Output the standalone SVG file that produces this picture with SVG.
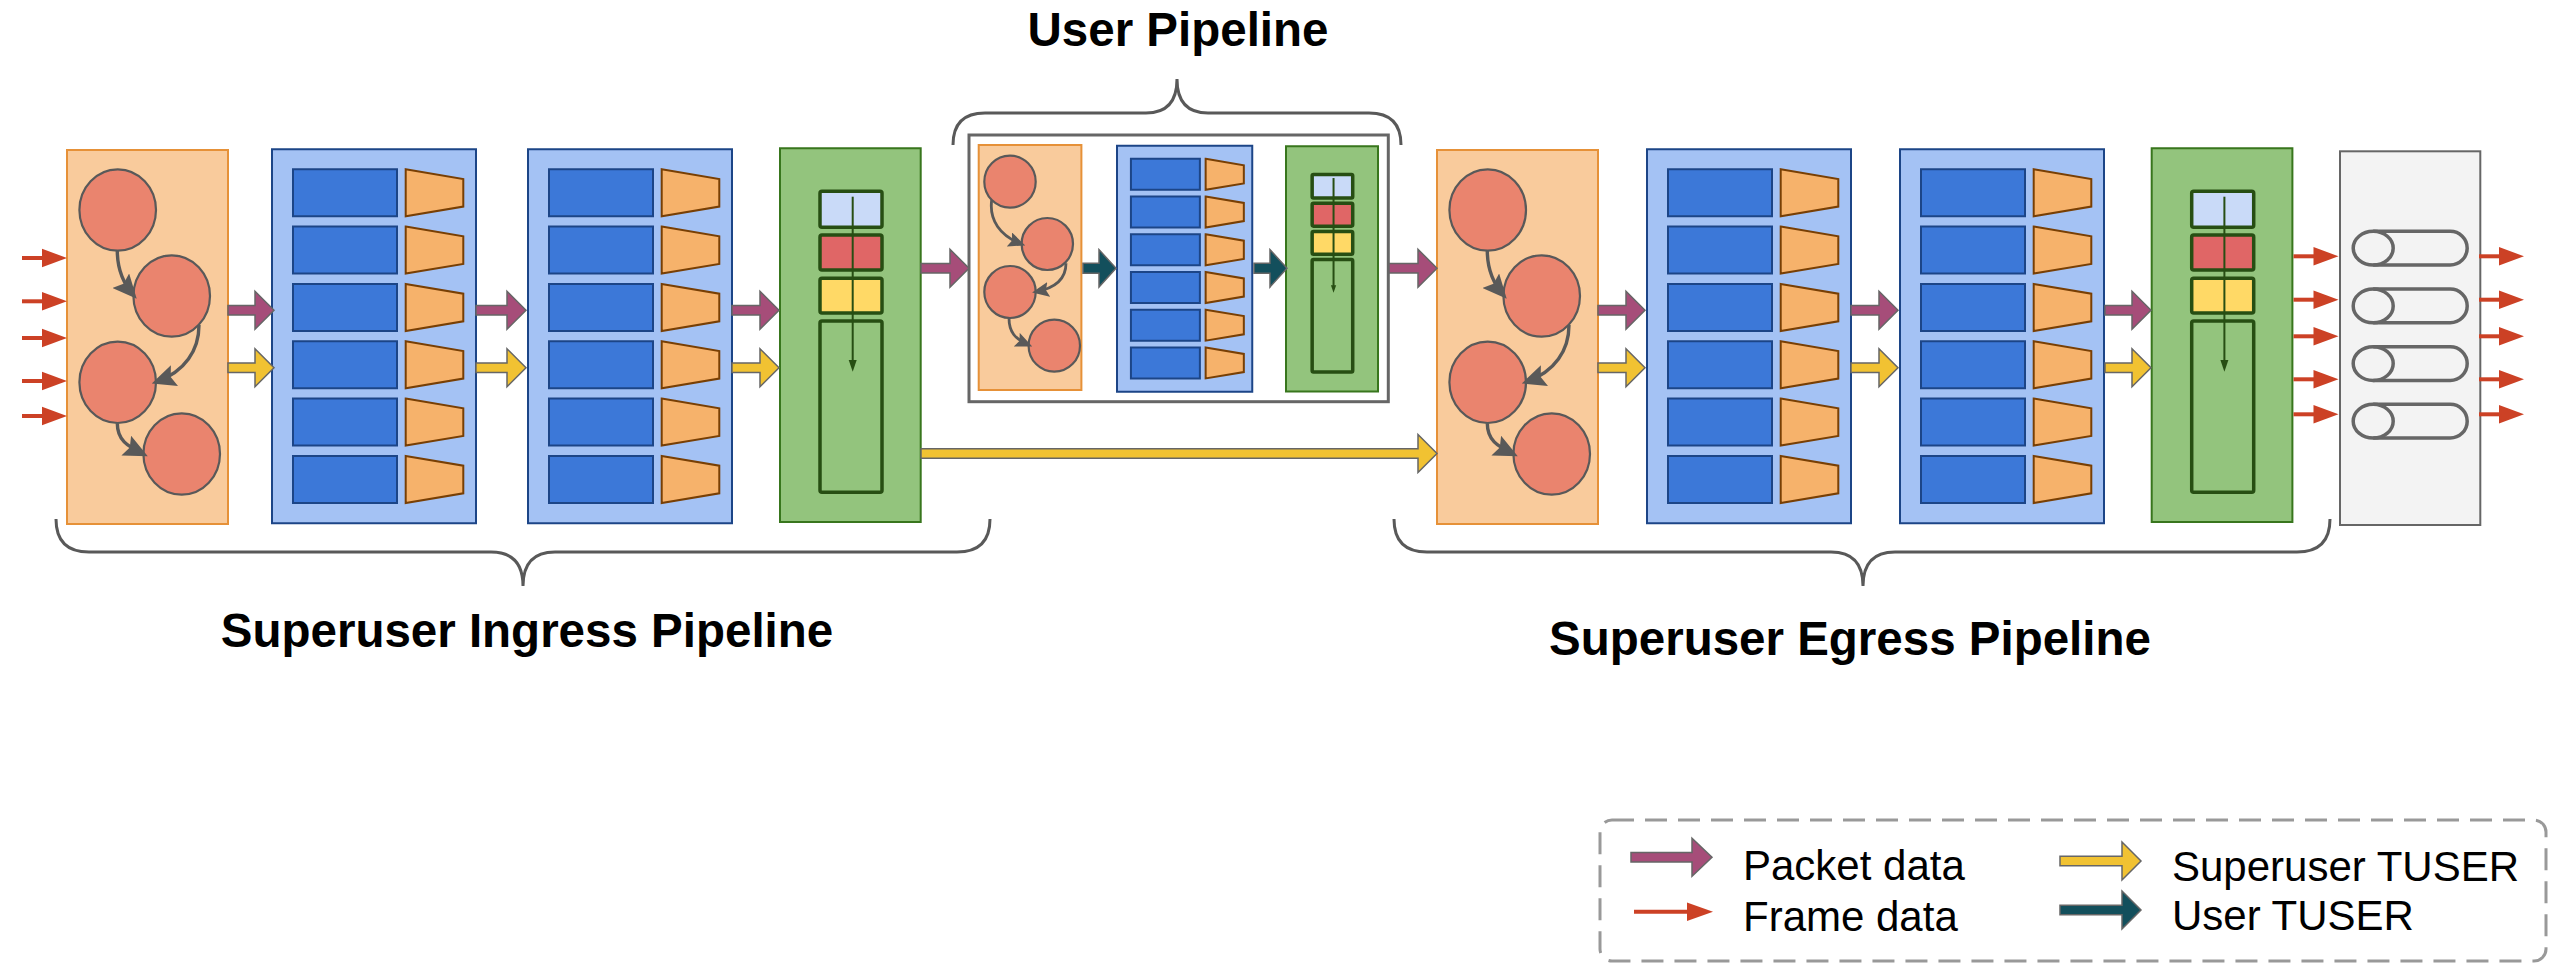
<svg xmlns="http://www.w3.org/2000/svg" xmlns:xlink="http://www.w3.org/1999/xlink" width="2552" height="964" viewBox="0 0 2552 964">
<style>
.title{font-family:"Liberation Sans",Arial,sans-serif;font-weight:bold;font-size:47.5px;fill:#000}
.legt{font-family:"Liberation Sans",Arial,sans-serif;font-size:42px;fill:#000}
.prs{fill:#f9cb9c;stroke:#e69138;stroke-width:2}
.cir{fill:#ea846e;stroke:#595959;stroke-width:2.2}
.ca{fill:none;stroke:#595959;stroke-width:3.4;marker-end:url(#ah)}
.cas{fill:none;stroke:#595959;stroke-width:2.8;marker-end:url(#ahs)}
.mau{fill:#a4c2f4;stroke:#1c4587;stroke-width:2;vector-effect:non-scaling-stroke}
.blk{fill:#3c78d8;stroke:#1c4587;stroke-width:2;vector-effect:non-scaling-stroke}
.trap{fill:#f6b26b;stroke:#783f04;stroke-width:2;vector-effect:non-scaling-stroke}
.dep{fill:#93c47d;stroke:#38761d;stroke-width:2;vector-effect:non-scaling-stroke}
.cell{stroke:#274e13;stroke-width:3.5;vector-effect:non-scaling-stroke}
.dl{stroke:#274e13;stroke-width:2;fill:none;vector-effect:non-scaling-stroke}
.out{fill:#f3f3f3;stroke:#666;stroke-width:2}
.sw{fill:none;stroke:#666;stroke-width:3.5}
.ubox{fill:#fff;stroke:#666;stroke-width:3}
.brace{fill:none;stroke:#595959;stroke-width:3}
.pa{fill:#a64d79;stroke:#666;stroke-width:1.5}
.ya{fill:#f1c232;stroke:#666;stroke-width:1.5}
.ta{fill:#134f5c;stroke:#666;stroke-width:1.5}
.fl{stroke:#cc4125;stroke-width:4;fill:none}
.fh{fill:#cc4125}
.leg{fill:none;stroke:#999;stroke-width:3;stroke-dasharray:22 11}
</style>
<defs>
<marker id="ah" markerUnits="userSpaceOnUse" markerWidth="24" markerHeight="22" viewBox="0 0 24 22" refX="19" refY="11" orient="auto"><path d="M0,0 L24,11 L0,22 L4,11 Z" fill="#595959"/></marker>
<marker id="ahs" markerUnits="userSpaceOnUse" markerWidth="17" markerHeight="15" viewBox="0 0 17 15" refX="13" refY="7.5" orient="auto"><path d="M0,0 L17,7.5 L0,15 L3,7.5 Z" fill="#595959"/></marker>
<g id="parserBody">
<rect class="prs" x="0" y="0" width="161" height="374"/>
<ellipse class="cir" cx="50.7" cy="60" rx="38.3" ry="40.7"/>
<ellipse class="cir" cx="104.7" cy="146" rx="38.3" ry="40.7"/>
<ellipse class="cir" cx="50.7" cy="232.3" rx="38.3" ry="40.7"/>
<ellipse class="cir" cx="114.7" cy="304" rx="38.3" ry="40.7"/>
<path class="ca" d="M50.3 100.7 C50.3 118 55 132 66.4 145"/>
<path class="ca" d="M132 175 C132 200 118 222 89.5 231.8"/>
<path class="ca" d="M50.3 273.3 C50.3 290 60 296 76.3 304"/>
</g>
<g id="mauBody">
<rect class="mau" x="0" y="0" width="204" height="374"/>
<rect class="blk" x="21" y="20" width="104" height="47"/>
<path class="trap" d="M133.7 20 L191.3 29.7 V57.3 L133.7 67 Z"/>
<rect class="blk" x="21" y="77.3" width="104" height="47"/>
<path class="trap" d="M133.7 77.3 L191.3 87 V114.6 L133.7 124.3 Z"/>
<rect class="blk" x="21" y="134.7" width="104" height="47"/>
<path class="trap" d="M133.7 134.7 L191.3 144.4 V172 L133.7 181.7 Z"/>
<rect class="blk" x="21" y="192" width="104" height="47"/>
<path class="trap" d="M133.7 192 L191.3 201.7 V229.3 L133.7 239 Z"/>
<rect class="blk" x="21" y="249.3" width="104" height="47"/>
<path class="trap" d="M133.7 249.3 L191.3 259 V286.6 L133.7 296.3 Z"/>
<rect class="blk" x="21" y="306.7" width="104" height="47"/>
<path class="trap" d="M133.7 306.7 L191.3 316.4 V344 L133.7 353.7 Z"/>
</g>
<g id="deparserBody">
<rect class="dep" x="0" y="0" width="140.7" height="373.7"/>
<rect class="cell" x="40" y="43" width="62" height="36" rx="2" fill="#c9daf8"/>
<rect class="cell" x="40" y="86.7" width="62" height="35" rx="2" fill="#e06666"/>
<rect class="cell" x="40" y="130" width="62" height="34.7" rx="2" fill="#ffd966"/>
<rect class="cell" x="40" y="172.7" width="62" height="171.3" rx="2" fill="none"/>
<path class="dl" d="M72.7 48.4 V213"/>
<path d="M68.7 211.7 L76.7 211.7 L72.7 223.4 Z" fill="#274e13"/>
</g>
<g id="sw">
<path class="sw" d="M0 -16.85 H77 A17 16.85 0 0 1 77 16.85 H0"/>
<ellipse class="sw" cx="0" cy="0" rx="20" ry="16.85"/>
</g>
<g id="fa">
<path class="fl" d="M-45 0 H-22"/>
<path class="fh" d="M-25 -9.2 L0 0 L-25 9.2 Z"/>
</g>
</defs>
<rect x="0" y="0" width="2552" height="964" fill="#fff"/>

<g id="ingress-parser"><use xlink:href="#parserBody" transform="translate(67,150)"/></g>
<g id="ingress-mau1"><use xlink:href="#mauBody" transform="translate(272,149.3)"/></g>
<g id="ingress-mau2"><use xlink:href="#mauBody" transform="translate(528,149.3)"/></g>
<g id="ingress-deparser"><use xlink:href="#deparserBody" transform="translate(780,148.3)"/></g>

<g id="user-pipeline">
<rect class="ubox" x="969" y="135" width="419.3" height="266.7"/>
</g>
<g id="user-parser">
<rect class="prs" x="978.7" y="145" width="102.7" height="245"/>
<ellipse class="cir" cx="1010" cy="181.7" rx="25.7" ry="26"/>
<ellipse class="cir" cx="1047.3" cy="244" rx="25.7" ry="26"/>
<ellipse class="cir" cx="1010" cy="292" rx="25.7" ry="26"/>
<ellipse class="cir" cx="1054.3" cy="345.7" rx="25.7" ry="26"/>
<path class="cas" d="M991.7 200 C989 220 1000 236 1021.5 244"/>
<path class="cas" d="M1066 263.3 C1066 278 1056 288 1036 291.8"/>
<path class="cas" d="M1009 318 C1009 332 1015 339 1028.6 345"/>
</g>
<g id="user-mau"><use xlink:href="#mauBody" transform="translate(1117,145.7) scale(0.663,0.658)"/></g>
<g id="user-deparser"><use xlink:href="#deparserBody" transform="translate(1286,146.3) scale(0.654,0.656)"/></g>

<g id="egress-parser"><use xlink:href="#parserBody" transform="translate(1437,150)"/></g>
<g id="egress-mau1"><use xlink:href="#mauBody" transform="translate(1647,149.3)"/></g>
<g id="egress-mau2"><use xlink:href="#mauBody" transform="translate(1900,149.3)"/></g>
<g id="egress-deparser"><use xlink:href="#deparserBody" transform="translate(2151.7,148.3)"/></g>

<g id="output-queues">
<rect class="out" x="2340" y="151.3" width="140.3" height="373.7"/>
<use xlink:href="#sw" transform="translate(2373.2,248.2)"/>
<use xlink:href="#sw" transform="translate(2373.2,305.9)"/>
<use xlink:href="#sw" transform="translate(2373.2,363.6)"/>
<use xlink:href="#sw" transform="translate(2373.2,421.2)"/>
</g>

<g id="connectors">
<use xlink:href="#fa" transform="translate(67,258)"/>
<use xlink:href="#fa" transform="translate(67,301.3)"/>
<use xlink:href="#fa" transform="translate(67,338)"/>
<use xlink:href="#fa" transform="translate(67,381)"/>
<use xlink:href="#fa" transform="translate(67,416)"/>
<use xlink:href="#fa" transform="translate(2338.5,256.3)"/>
<use xlink:href="#fa" transform="translate(2338.5,299.7)"/>
<use xlink:href="#fa" transform="translate(2338.5,336.3)"/>
<use xlink:href="#fa" transform="translate(2338.5,379.3)"/>
<use xlink:href="#fa" transform="translate(2338.5,414.3)"/>
<use xlink:href="#fa" transform="translate(2524,256.3)"/>
<use xlink:href="#fa" transform="translate(2524,299.7)"/>
<use xlink:href="#fa" transform="translate(2524,336.3)"/>
<use xlink:href="#fa" transform="translate(2524,379.3)"/>
<use xlink:href="#fa" transform="translate(2524,414.3)"/>

<path class="pa" d="M228 305.6 H255 V291.3 L274 310.3 L255 329.3 V315 H228 Z"/>
<path class="pa" d="M476 305.6 H507 V291.3 L526 310.3 L507 329.3 V315 H476 Z"/>
<path class="pa" d="M732 305.6 H760 V291.3 L779 310.3 L760 329.3 V315 H732 Z"/>
<path class="pa" d="M921 263.6 H950 V249.3 L969 268.3 L950 287.3 V273 H921 Z"/>
<path class="pa" d="M1389 263.6 H1418 V249.3 L1437 268.3 L1418 287.3 V273 H1389 Z"/>
<path class="pa" d="M1598 305.6 H1626 V291.3 L1645 310.3 L1626 329.3 V315 H1598 Z"/>
<path class="pa" d="M1851 305.6 H1879 V291.3 L1898 310.3 L1879 329.3 V315 H1851 Z"/>
<path class="pa" d="M2105 305.6 H2132 V291.3 L2151 310.3 L2132 329.3 V315 H2105 Z"/>

<path class="ya" d="M228 363 H255 V348.7 L274 367.7 L255 386.7 V372.4 H228 Z"/>
<path class="ya" d="M476 363 H507 V348.7 L526 367.7 L507 386.7 V372.4 H476 Z"/>
<path class="ya" d="M732 363 H760 V348.7 L779 367.7 L760 386.7 V372.4 H732 Z"/>
<path class="ya" d="M1598 363 H1626 V348.7 L1645 367.7 L1626 386.7 V372.4 H1598 Z"/>
<path class="ya" d="M1851 363 H1879 V348.7 L1898 367.7 L1879 386.7 V372.4 H1851 Z"/>
<path class="ya" d="M2105 363 H2132 V348.7 L2151 367.7 L2132 386.7 V372.4 H2105 Z"/>
<path class="ya" d="M921 448.8 H1418 V434.5 L1437 453.5 L1418 472.5 V458.2 H921 Z"/>

<path class="ta" d="M1083 263.3 H1099 V249.6 L1116 268.3 L1099 287 V273.3 H1083 Z"/>
<path class="ta" d="M1254 263.3 H1270 V249.6 L1287 268.3 L1270 287 V273.3 H1254 Z"/>
</g>

<g id="braces">
<path class="brace" d="M953 145 Q953 113 985 113 H1146 Q1177 113 1177 79 Q1177 113 1208 113 H1369 Q1401 113 1401 145"/>
<path class="brace" d="M56 519 Q56 552 89 552 H491 Q523 552 523 586 Q523 552 555 552 H957 Q990 552 990 519"/>
<path class="brace" d="M1394 519 Q1394 552 1427 552 H1831 Q1863 552 1863 586 Q1863 552 1895 552 H2297 Q2330 552 2330 519"/>
</g>

<g id="labels">
<text class="title" x="1178" y="46" text-anchor="middle">User Pipeline</text>
<text class="title" x="527" y="647" text-anchor="middle">Superuser Ingress Pipeline</text>
<text class="title" x="1850" y="655" text-anchor="middle">Superuser Egress Pipeline</text>
</g>

<g id="legend">
<rect class="leg" x="1600" y="820" width="946" height="141" rx="12"/>
<path class="pa" d="M1631 852.6 H1692 V838.3 L1712 857.3 L1692 876.3 V862 H1631 Z"/>
<text class="legt" x="1743" y="880">Packet data</text>
<path class="fl" d="M1634 911.7 H1690"/>
<path class="fh" d="M1687 902.5 L1713 911.7 L1687 920.9 Z"/>
<text class="legt" x="1743" y="931">Frame data</text>
<path class="ya" d="M2060 856.3 H2122 V842 L2141 861 L2122 880 V865.7 H2060 Z"/>
<text class="legt" x="2172" y="881">Superuser TUSER</text>
<path class="ta" d="M2060 905.3 H2122 V891 L2141 910 L2122 929 V914.7 H2060 Z"/>
<text class="legt" x="2172" y="929.5">User TUSER</text>
</g>
</svg>
